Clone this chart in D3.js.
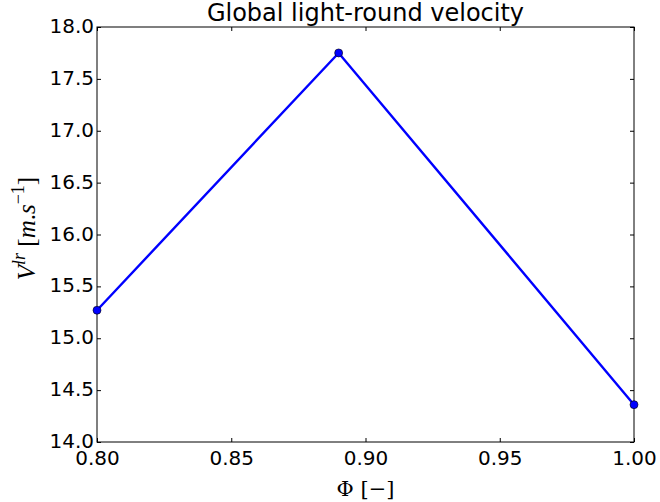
<!DOCTYPE html>
<html>
<head>
<meta charset="utf-8">
<script src="https://cdn.jsdelivr.net/npm/d3@7"></script>
<style>
  html, body { margin: 0; padding: 0; background: #fff; }
  svg { display: block; }
</style>
</head>
<body>
<svg id="chart" width="660" height="502"></svg>
<script>
const phi = [0.80, 0.89, 1.00];
const velocity = [15.27, 17.75, 14.36];
const xTicks = [0.80, 0.85, 0.90, 0.95, 1.00];
const yTicks = [14.0, 14.5, 15.0, 15.5, 16.0, 16.5, 17.0, 17.5, 18.0];
const title = "Global light-round velocity";

const W = 660, H = 502;
const m = { left: 97, right: 26, top: 27, bottom: 60 };
const svg = d3.select("#chart");
const x = d3.scaleLinear().domain([0.80, 1.00]).range([m.left, W - m.right]);
const y = d3.scaleLinear().domain([14.0, 18.0]).range([H - m.bottom, m.top]);

const font = "DejaVu Sans, sans-serif";
const tickLen = 4;

const xAxis = svg.append("g")
  .attr("transform", `translate(0,${y(14)})`)
  .call(d3.axisBottom(x).tickValues(xTicks).tickFormat(d3.format(".2f"))
    .tickSizeInner(-tickLen).tickSizeOuter(0).tickPadding(9));
const xTop = svg.append("g")
  .attr("transform", `translate(0,${y(18)})`)
  .call(d3.axisTop(x).tickValues(xTicks).tickFormat("")
    .tickSizeInner(-tickLen).tickSizeOuter(0));
const yAxis = svg.append("g")
  .attr("transform", `translate(${x(0.8)},0)`)
  .call(d3.axisLeft(y).tickValues(yTicks).tickFormat(d3.format(".1f"))
    .tickSizeInner(-tickLen).tickSizeOuter(0).tickPadding(3));
const yRight = svg.append("g")
  .attr("transform", `translate(${x(1.0)},0)`)
  .call(d3.axisRight(y).tickValues(yTicks).tickFormat("")
    .tickSizeInner(-tickLen).tickSizeOuter(0));

[xAxis, xTop, yAxis, yRight].forEach(g => {
  g.select(".domain").remove();
  g.selectAll(".tick line").attr("stroke", "#000").attr("stroke-width", 1);
  g.selectAll("text").attr("font-family", font).attr("font-size", 20).attr("fill", "#000");
});
yAxis.selectAll("text").attr("dy", "0.28em");
xAxis.selectAll("text").attr("dy", "0.71em");

svg.append("rect")
  .attr("x", x(0.8)).attr("y", y(18))
  .attr("width", x(1.0) - x(0.8)).attr("height", y(14) - y(18))
  .attr("fill", "none").attr("stroke", "#000").attr("stroke-width", 1);

const pts = phi.map((p, i) => [p, velocity[i]]);
svg.append("path")
  .datum(pts)
  .attr("fill", "none")
  .attr("stroke", "#0000ff")
  .attr("stroke-width", 2.4)
  .attr("d", d3.line().x(d => x(d[0])).y(d => y(d[1])));

svg.selectAll("circle.pt")
  .data(pts).enter().append("circle")
  .attr("class", "pt")
  .attr("cx", d => x(d[0])).attr("cy", d => y(d[1]))
  .attr("r", 4)
  .attr("fill", "#0000ff").attr("stroke", "#000").attr("stroke-width", 0.6);

svg.append("text")
  .attr("x", (x(0.8) + x(1.0)) / 2).attr("y", 21)
  .attr("text-anchor", "middle")
  .attr("font-family", font).attr("font-size", 24)
  .text(title);

const serif = "DejaVu Serif, Liberation Serif, serif";
svg.append("text")
  .attr("x", (x(0.8) + x(1.0)) / 2).attr("y", 496)
  .attr("text-anchor", "middle")
  .attr("font-family", serif).attr("font-size", 21)
  .text("Φ [−]");

const yl = svg.append("text")
  .attr("transform", `translate(35,${(y(14) + y(18)) / 2 - 6}) rotate(-90)`)
  .attr("text-anchor", "middle")
  .attr("font-family", "Liberation Serif, DejaVu Serif, serif").attr("font-size", 25);
yl.append("tspan").attr("font-style", "italic").text("V");
yl.append("tspan").attr("font-style", "italic").attr("font-size", 18).attr("dy", -10).text("lr");
yl.append("tspan").attr("dy", 10).text(" [");
yl.append("tspan").attr("font-style", "italic").text("m");
yl.append("tspan").text(".");
yl.append("tspan").attr("font-style", "italic").text("s");
yl.append("tspan").attr("font-size", 18).attr("dy", -11).text("−1");
yl.append("tspan").attr("dy", 11).text("]");
</script>
</body>
</html>
